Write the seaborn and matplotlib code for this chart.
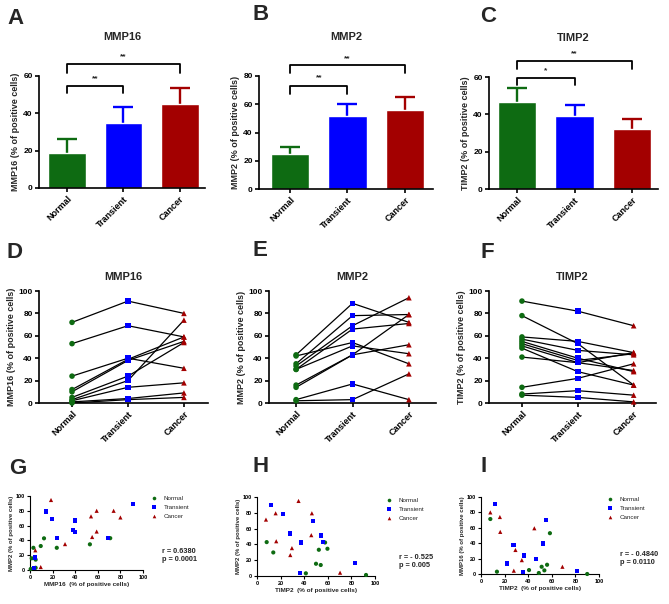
import numpy as np
import pandas as pd
import matplotlib
matplotlib.use("Agg")
import matplotlib.pyplot as plt
from matplotlib.lines import Line2D
import seaborn as sns

sns.set_style("white")
plt.rcParams["font.family"] = ["Liberation Sans", "DejaVu Sans"]

# ---------------- data ----------------
groups = ["Normal", "Transient", "Cancer"]
colors = {"Normal": "#0e6b12", "Transient": "#0000ff", "Cancer": "#a30000"}
markers = {"Normal": "o", "Transient": "s", "Cancer": "^"}

# bar panels (mean, upper error)
mmp16_mean = [19, 35, 45]
mmp16_err = [7.5, 8.5, 8.5]
mmp2_mean = [25, 51.5, 56]
mmp2_err = [4.5, 8.5, 9]
timp2_mean = [46.5, 39, 32]
timp2_err = [7.5, 6, 5.5]

# paired panels (one entry per patient)
mmp16_normal = [72, 53, 24, 12, 10, 5, 3, 2, 1, 0]
mmp16_trans = [91, 69, 40, 39, 38, 24, 20, 14, 4, 3]
mmp16_cancer = [80, 59, 31, 59, 55, 54, 74, 18, 9, 5]

mmp2_normal = [43, 35, 33, 30, 42, 30, 16, 14, 3, 2]
mmp2_trans = [89, 78, 69, 66, 54, 51, 43, 43, 17, 3]
mmp2_cancer = [72, 79, 94, 71, 35, 44, 52, 79, 3, 26]

timp2_normal = [91, 78, 59, 57, 55, 53, 51, 49, 41, 14, 8, 7]
timp2_trans = [82, 53, 55, 47, 40, 38, 36, 28, 36, 22, 11, 5]
timp2_cancer = [69, 16, 45, 43, 28, 44, 29, 16, 45, 35, 7, 1]

# scatter G: MMP16 (x) vs MMP2 (y)
g_normal_x = [0.6, 1.5, 3, 5, 5, 9.5, 12.4, 23.7, 53, 71]
g_normal_y = [1.4, 15.8, 30, 14, 3, 32.4, 42.8, 30, 34.7, 43]
g_trans_x = [3.5, 4.4, 14, 19.5, 24, 38, 40, 40, 69, 91]
g_trans_y = [3, 17, 79, 69, 43, 54, 51, 67, 43, 89]
g_cancer_x = [4.7, 9.5, 18.6, 31, 54, 55, 59, 59, 74, 80]
g_cancer_y = [26.6, 4, 94.6, 35, 72.5, 44.6, 80, 52, 80, 71]

# scatter H: TIMP2 (x) vs MMP2 (y)
h_normal_x = [8.2, 13.8, 41.4, 50, 54, 52.4, 57.7, 59.7, 92.4]
h_normal_y = [42.9, 29.8, 3.4, 15.5, 13.9, 33.2, 42.4, 34.5, 1.3]
h_trans_x = [11.8, 22, 28, 37.2, 36.3, 47.3, 54, 56, 83]
h_trans_y = [89.5, 78, 53.8, 42.4, 3.4, 69.7, 51.3, 42.9, 16.8]
h_cancer_x = [7.6, 15.8, 16.3, 29.6, 28.2, 35.2, 46.5, 46, 70.4]
h_cancer_y = [71.4, 79.4, 44, 35.3, 26.5, 95, 79.4, 51.7, 4.2]

# scatter I: TIMP2 (x) vs MMP16 (y)
i_normal_x = [7.9, 13.5, 40.7, 49, 51.4, 53.7, 56, 58.4, 90]
i_normal_y = [71.4, 3, 5.1, 1.3, 9.4, 4.7, 12, 53, 0]
i_trans_x = [11.8, 21.9, 27.5, 35.7, 36.5, 46.6, 52.8, 55, 81.5]
i_trans_y = [91, 13.7, 38, 2.6, 24, 19.7, 39.7, 69.7, 4.3]
i_cancer_x = [7.9, 16, 16.3, 27.8, 29.2, 34.6, 45.2, 69]
i_cancer_y = [80, 74, 54.7, 4.3, 31.2, 18, 59.4, 9.4]

# ---------------- layout ----------------
W, H = 669, 604
fig = plt.figure(figsize=(W / 100, H / 100), dpi=100)
fig.patch.set_facecolor("white")


def rect(l, r, t, b):
    return [l / W, 1 - b / H, (r - l) / W, (b - t) / H]


def ftext(x, y, s, **kw):
    fig.text(x / W, 1 - y / H, s, **kw)


def style_axes(ax, lw=1.2, tl=3, fs=6):
    sns.despine(ax=ax)
    for sp in ("left", "bottom"):
        ax.spines[sp].set_linewidth(lw)
        ax.spines[sp].set_color("black")
    ax.tick_params(axis="both", which="both", direction="out", length=tl,
                   width=lw, colors="black", labelsize=fs, pad=1.5,
                   left=True, bottom=True)
    for lab in ax.get_xticklabels() + ax.get_yticklabels():
        lab.set_fontweight("bold")


def cat_xticks(ax):
    ax.set_xticks([0, 1, 2])
    ax.set_xticklabels(groups, rotation=45, ha="right",
                       rotation_mode="anchor", fontsize=6.5, fontweight="bold")


def bar_panel(box, xlim, means, errs, ymax, title, ylabel, brackets):
    ax = fig.add_axes(rect(*box))
    df = pd.DataFrame({"group": groups, "value": means})
    sns.barplot(data=df, x="group", y="value", hue="group", order=groups,
                hue_order=groups, palette=colors, saturation=1, width=0.67,
                legend=False, ax=ax, errorbar=None, zorder=2)
    for i, g in enumerate(groups):
        eb = ax.errorbar(i, means[i], yerr=[[0], [errs[i]]], color=colors[g],
                         capsize=7, elinewidth=1.7, capthick=1.7, zorder=1)
        caps = eb[1]
        if len(caps) > 1:
            caps[0].set_visible(False)
    ax.set_ylim(0, ymax)
    ax.set_yticks(np.arange(0, ymax + 1, 20))
    ax.set_xlim(*xlim)
    ax.set_xlabel("")
    ax.set_ylabel(ylabel, fontsize=6.5, fontweight="bold", labelpad=2)
    ax.set_title(title, fontsize=8, fontweight="bold", pad=0, y=1.32)
    style_axes(ax)
    cat_xticks(ax)
    for (a, b, yl, ye, txt, ys) in brackets:
        ax.plot([a, a, b, b], [ye, yl, yl, ye], color="black", lw=1.3,
                clip_on=False)
        ax.text((a + b) / 2, ys, txt, ha="center", va="center", fontsize=6,
                fontweight="bold", clip_on=False)
    return ax


def line_panel(box, xlim, n, t, c, title, ylabel):
    ax = fig.add_axes(rect(*box))
    rows = []
    for p in range(len(n)):
        for gi, (g, vals) in enumerate(zip(groups, (n, t, c))):
            rows.append({"patient": p, "group": g, "pos": gi, "value": vals[p]})
    long = pd.DataFrame(rows)
    sns.lineplot(data=long, x="pos", y="value", units="patient",
                 estimator=None, color="black", lw=0.9, ax=ax, legend=False,
                 sort=False)
    sns.scatterplot(data=long, x="pos", y="value", hue="group", style="group",
                    hue_order=groups, style_order=groups, palette=colors,
                    markers=markers, s=16, linewidth=0, ax=ax, legend=False,
                    zorder=3, clip_on=False)
    ax.set_ylim(0, 100)
    ax.set_yticks(np.arange(0, 101, 20))
    ax.set_xlim(*xlim)
    ax.set_xlabel("")
    ax.set_ylabel(ylabel, fontsize=6.5, fontweight="bold", labelpad=2)
    ax.set_title(title, fontsize=8, fontweight="bold", pad=8)
    style_axes(ax)
    cat_xticks(ax)
    return ax


def scatter_panel(box, xs, ys, xlabel, ylabel, leg_xy, rtext, rxy):
    ax = fig.add_axes(rect(*box))
    rows = []
    for g, (x, y) in zip(groups, zip(xs, ys)):
        for a, b in zip(x, y):
            rows.append({"group": g, "x": a, "y": b})
    df = pd.DataFrame(rows)
    sns.scatterplot(data=df, x="x", y="y", hue="group", style="group",
                    hue_order=groups, style_order=groups, palette=colors,
                    markers=markers, s=9, linewidth=0, ax=ax, legend=False,
                    clip_on=False, zorder=3)
    ax.set_xlim(0, 100)
    ax.set_ylim(0, 100)
    ax.set_xticks(np.arange(0, 101, 20))
    ax.set_yticks(np.arange(0, 101, 20))
    ax.set_xlabel(xlabel, fontsize=4.6, fontweight="bold", labelpad=1.5)
    ax.set_ylabel(ylabel, fontsize=4.3, fontweight="bold", labelpad=1.5)
    style_axes(ax, lw=0.8, tl=2, fs=4)
    handles = [Line2D([], [], ls="none", marker=markers[g], color=colors[g],
                      markersize=2.6, markeredgewidth=0) for g in groups]
    ax.legend(handles, groups, loc="upper left",
              bbox_to_anchor=(leg_xy[0] / W, 1 - leg_xy[1] / H),
              bbox_transform=fig.transFigure, frameon=False, fontsize=4.5,
              handlelength=0.8, handletextpad=1.2, labelspacing=0.55,
              borderpad=0, borderaxespad=0)
    ftext(rxy[0], rxy[1], rtext, fontsize=5.3, fontweight="bold",
          va="top", ha="left", linespacing=1.15)
    return ax


# ---- row 1: bars ----
bar_panel((39, 205, 76, 188), (-0.5, 2.45), mmp16_mean, mmp16_err, 60,
          "MMP16", "MMP16 (% of positive cells)",
          [(0, 1, 54.6, 51, "**", 58.5), (0, 2, 66.4, 61.6, "**", 70.5)])
bar_panel((259, 433, 76, 189), (-0.54, 2.49), mmp2_mean, mmp2_err, 80,
          "MMP2", "MMP2 (% of positive cells)",
          [(0, 1, 73, 67, "**", 78.5), (0, 2, 87.8, 82, "**", 92.5)])
bar_panel((489, 658, 77, 189), (-0.49, 2.45), timp2_mean, timp2_err, 60,
          "TIMP2", "TIMP2 (% of positive cells)",
          [(0, 1, 59.5, 55.7, "*", 63.5), (0, 2, 68.6, 64.3, "**", 72.5)])

# ---- row 2: paired lines ----
line_panel((39, 208, 291, 403), (-0.59, 2.43), mmp16_normal, mmp16_trans,
           mmp16_cancer, "MMP16", "MMP16 (% of positive cells)")
line_panel((269, 436, 291, 403), (-0.48, 2.48), mmp2_normal, mmp2_trans,
           mmp2_cancer, "MMP2", "MMP2 (% of positive cells)")
line_panel((489, 656, 291, 403), (-0.59, 2.4), timp2_normal, timp2_trans,
           timp2_cancer, "TIMP2", "TIMP2 (% of positive cells)")

# ---- row 3: scatter ----
scatter_panel((30, 143, 496, 570),
              (g_normal_x, g_trans_x, g_cancer_x),
              (g_normal_y, g_trans_y, g_cancer_y),
              "MMP16  (% of positive cells)", "MMP2 (% of positive cells)",
              (151, 496), "r = 0.6380\np = 0.0001", (162, 548))
scatter_panel((257, 375, 497, 576),
              (h_normal_x, h_trans_x, h_cancer_x),
              (h_normal_y, h_trans_y, h_cancer_y),
              "TIMP2  (% of positive cells)", "MMP2 (% of positive cells)",
              (386, 498), "r = - 0.525\np = 0.005", (399, 554))
scatter_panel((481, 599, 497, 574),
              (i_normal_x, i_trans_x, i_cancer_x),
              (i_normal_y, i_trans_y, i_cancer_y),
              "TIMP2  (% of positive cells)", "MMP16 (% of positive cells)",
              (607, 497), "r = - 0.4840\np = 0.0110", (620, 551))

# ---- panel letters ----
for letter, x, y in [("A", 7, 18), ("B", 253, 15), ("C", 480, 17),
                     ("D", 7, 252), ("E", 253, 251), ("F", 480, 252),
                     ("G", 9, 468), ("H", 253, 467), ("I", 480, 467)]:
    ftext(x, y, letter, fontsize=16, fontweight="bold", va="center", ha="left")

fig.savefig("out.png", dpi=100, facecolor="white")
